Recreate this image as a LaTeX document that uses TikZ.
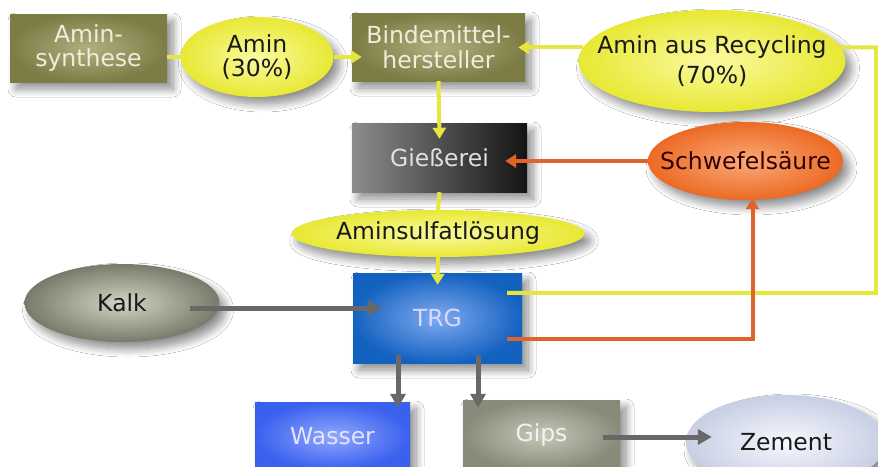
\documentclass[tikz,border=0pt]{standalone}
\usepackage{fontspec}
\setmainfont{DejaVu Sans}
\usetikzlibrary{shapes.geometric,arrows.meta,calc,shadows.blur}
\definecolor{olin}{HTML}{B0AF80}
\definecolor{olout}{HTML}{7E7C45}
\definecolor{oltxt}{HTML}{EEEEDD}
\definecolor{yin}{HTML}{FAFAA0}
\definecolor{yout}{HTML}{E8E834}
\definecolor{ylc}{HTML}{E6E640}
\definecolor{orin}{HTML}{FAAA78}
\definecolor{orout}{HTML}{EC6A24}
\definecolor{orc}{HTML}{E0642A}
\definecolor{trgin}{HTML}{7FAAF0}
\definecolor{trgout}{HTML}{1462C0}
\definecolor{wasin}{HTML}{90A8FF}
\definecolor{wasout}{HTML}{3A60EE}
\definecolor{gipin}{HTML}{C8C8B8}
\definecolor{gipout}{HTML}{8A8A7A}
\definecolor{kalin}{HTML}{D4D4C6}
\definecolor{kalout}{HTML}{7A7A6A}
\definecolor{zemin}{HTML}{F6F8FD}
\definecolor{zemout}{HTML}{C8CEE4}
\definecolor{garc}{HTML}{686868}
\definecolor{giel}{HTML}{8C8C8C}
\definecolor{gier}{HTML}{141414}
\newcommand{\zb}[1]{\makebox[0pt][c]{#1}}
\begin{document}
\begin{tikzpicture}[x=1pt,y=-1pt,
  shad/.style={blur shadow={shadow xshift=6pt,shadow yshift=-7pt,shadow blur radius=8pt,shadow blur steps=10,shadow opacity=45}},
  txt/.style={font=\fontsize{23.5}{24.5}\selectfont, align=center, inner sep=0pt},
  rbox/.style={rectangle, shade, shad, txt},
  ell/.style={ellipse, shade, shad, txt, text=black!90},
  yline/.style={draw=ylc, line width=4pt},
  yarr/.style={yline, -{Triangle[length=11pt,width=13pt]}},
  oline/.style={draw=orc, line width=4pt},
  oarr/.style={oline, -{Triangle[length=11pt,width=13pt]}},
  garr/.style={draw=garc, line width=5pt, -{Triangle[length=14pt,width=15pt]}}
]
\fill[white] (0,0) rectangle (878,466);
\useasboundingbox (0,0) rectangle (878,466);

\node[rbox, minimum width=157pt, minimum height=68pt, inner color=olin, outer color=olout, text=oltxt] (syn) at (88.5,48) {Amin-\\synthese};
\node[ell, minimum width=153pt, minimum height=80pt, inner color=yin, outer color=yout] (amin) at (257,57) {\zb{Amin}\\\zb{(30\%)}};
\node[rbox, minimum width=173pt, minimum height=68pt, inner color=olin, outer color=olout, text=oltxt] (bind) at (438.5,47) {Bindemittel-\\hersteller};
\node[ell, minimum width=267pt, minimum height=102pt, inner color=yin, outer color=yout] (rec) at (712,61) {\zb{Amin aus Recycling}\\[6pt]\zb{(70\%)}};
\node[rbox, minimum width=175pt, minimum height=69pt, left color=giel, right color=gier, text=white!88!black] (gie) at (439.5,157.5) {Gießerei};
\node[ell, minimum width=195pt, minimum height=78pt, inner color=orin, outer color=orout, text=black!80!red] (schw) at (745.5,161) {\zb{Schwefelsäure}};
\node[ell, minimum width=293pt, minimum height=47pt, inner color=yin, outer color=yout] (sulf) at (438,233.5) {\zb{Aminsulfatlösung}};
\node[ell, minimum width=195pt, minimum height=78pt, inner color=kalin, outer color=kalout] (kalk) at (122,303) {\zb{Kalk}};
\node[rbox, minimum width=169pt, minimum height=90pt, inner color=trgin, outer color=trgout, text=white!85!blue] (trg) at (437.5,318) {TRG};
\node[rbox, minimum width=155pt, minimum height=68pt, inner color=wasin, outer color=wasout, text=white!90!blue] (was) at (332.5,436) {Wasser};
\node[rbox, minimum width=157pt, minimum height=70pt, inner color=gipin, outer color=gipout, text=white!90!gray] (gips) at (541.5,435) {Gips};
\node[ell, minimum width=200pt, minimum height=94pt, inner color=zemin, outer color=zemout] (zem) at (786,442) {\zb{Zement}};

\draw[yline] (syn.east |- amin.center) -- (amin.west);
\draw[yarr] (amin.east) -- ($(bind.west |- amin.east)+(10,0)$);
\draw[yarr] (rec.174) -- ($(rec.174 -| bind.east)+(-7,0)$);
\draw[yarr] (bind.south) -- ($(gie.north)+(0,16)$);
\draw[yline] (gie.south) -- (sulf.north);
\draw[yarr] (sulf.south) -- ($(trg.north)+(0,12)$);
\draw[oarr] (schw.west) -- ($(schw.west -| gie.east)+(-22,0)$);
\coordinate (rail) at (876,293);
\draw[yline] ($(trg.north east)+(-15,20)$) -- (rail) -- (rail |- rec.6) -- (rec.6);
\draw[oarr] ($(trg.north east)+(-15,66)$) -| ($(schw.south)+(7,-2)$);
\draw[garr] ($(kalk.east)+(-30,5)$) -- ($(trg.west |- kalk.east)+(29,5)$);
\draw[garr] ($(trg.south)+(-39.5,-8)$) -- ($(was.north)+(65.5,6)$);
\draw[garr] ($(trg.south)+(40.5,-8)$) -- ($(gips.north)+(-63.5,8)$);
\draw[garr] ($(gips.east)+(-17,2)$) -- ($(zem.west |- gips.east)+(26,2)$);
\end{tikzpicture}
\end{document}
